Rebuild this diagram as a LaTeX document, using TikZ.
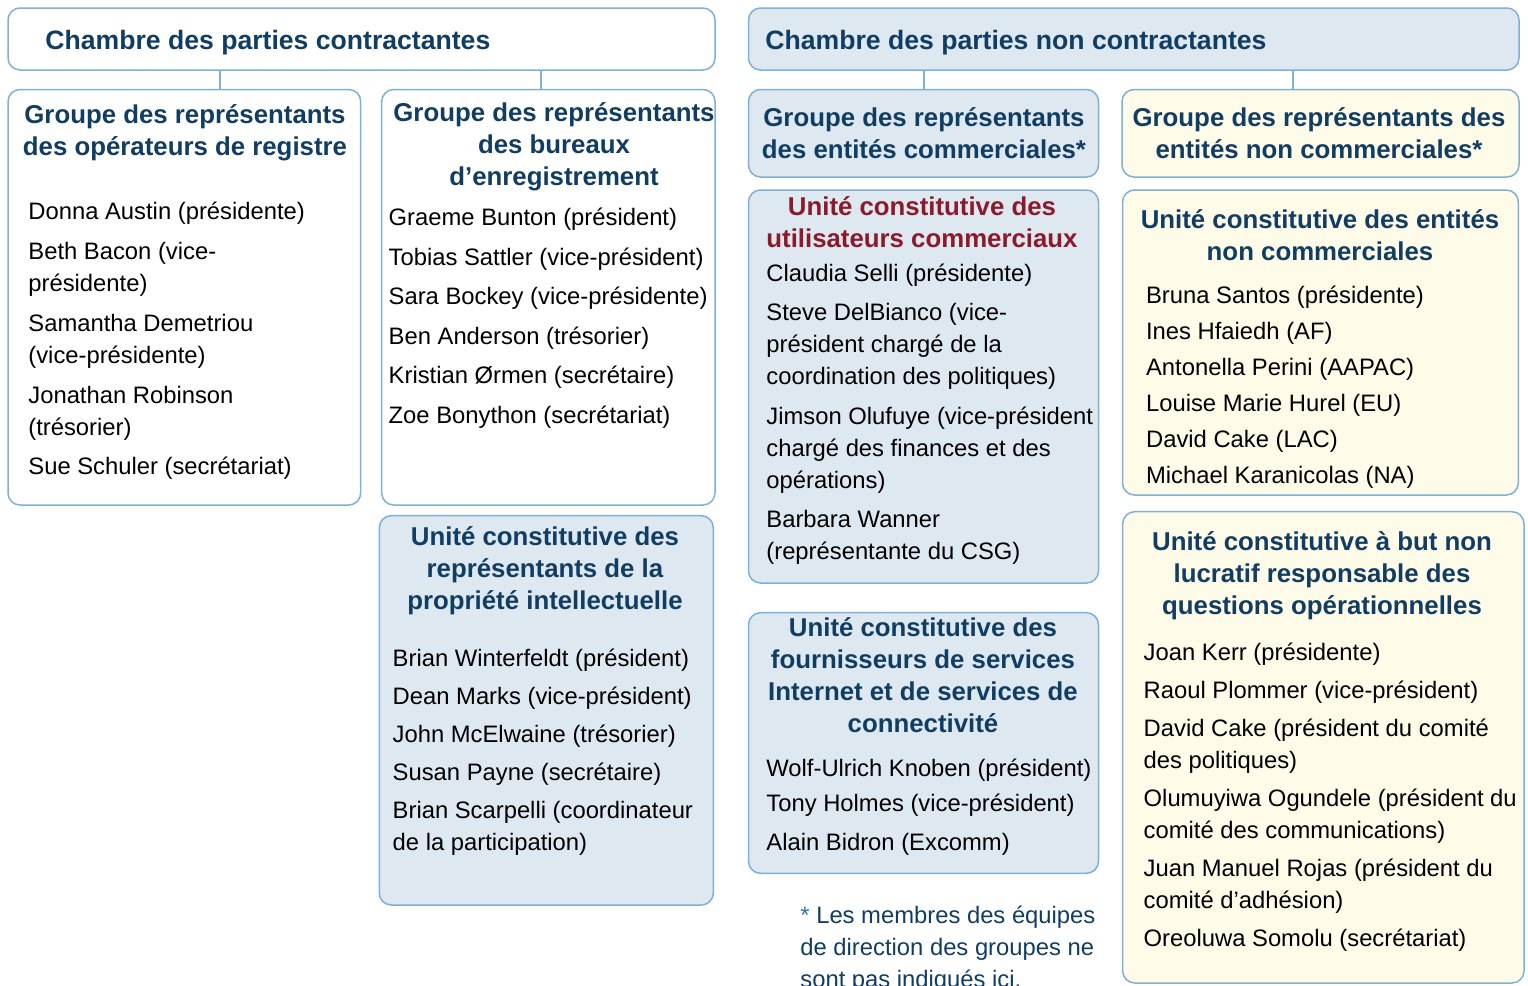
\documentclass[tikz,border=0pt]{standalone}
\usepackage{fontspec}
\setmainfont{Liberation Sans}
\usetikzlibrary{fit}
\definecolor{navy}{RGB}{17,61,99}
\definecolor{wine}{RGB}{139,26,44}
\definecolor{edge}{RGB}{127,176,214}
\definecolor{bluefill}{RGB}{222,232,241}
\definecolor{yelfill}{RGB}{254,251,233}
\definecolor{starblue}{RGB}{46,117,170}
\newcommand\Lines[1]{\begin{tabular}[t]{@{}l@{}}#1\end{tabular}}
\newcommand\CLines[1]{\begin{tabular}[t]{@{}c@{}}#1\end{tabular}}
\tikzset{
  box/.style={draw=edge, line width=0.75pt, rounded corners=6pt, inner sep=0pt},
  boxW/.style={box, fill=white},
  boxB/.style={box, fill=bluefill},
  boxY/.style={box, fill=yelfill},
  conn/.style={draw=edge, line width=1pt},
  hdr/.style={anchor=base west, inner sep=0pt, text=navy, font=\bfseries\fontsize{13.3}{16}\selectfont},
  ttl/.style={anchor=base, inner sep=0pt, text=navy, font=\bfseries\fontsize{12.9}{16}\selectfont},
  ttlred/.style={ttl, text=wine},
  lst/.style={anchor=base west, inner sep=0pt, text=black, font=\fontsize{11.9}{16}\selectfont},
  foot/.style={anchor=base west, inner sep=0pt, text=navy, font=\fontsize{11.9}{16}\selectfont}
}
\begin{document}
\begin{tikzpicture}[x=0.5pt,y=-0.5pt]
\path[fill=white,use as bounding box] (0,0) rectangle (1528,986);

% header boxes
\node[boxW, fit={(8,8)(715,70)}] (hA) {};
\node[boxB, fit={(748.5,8)(1519,70)}] (hB) {};
\node[hdr] (hAt) at (45,49.3) {Chambre des parties contractantes};
\node[hdr] (hBt) at (765,49) {Chambre des parties non contractantes};

% group boxes
\node[boxW, fit={(8,89.5)(360.7,505)}] (c1) {};
\node[boxW, fit={(381.7,89.5)(715,505)}] (c2) {};
\node[boxB, fit={(379.3,515.7)(713.3,905)}] (c3) {};
\node[boxB, fit={(748.5,89.5)(1098.5,177)}] (d1) {};
\node[boxB, fit={(748.5,190)(1098.5,583)}] (d2) {};
\node[boxB, fit={(748.5,612.7)(1098.5,873.3)}] (d3) {};
\node[boxY, fit={(1122,89.5)(1519,177)}] (e1) {};
\node[boxY, fit={(1122.5,190)(1518.3,495)}] (e2) {};
\node[boxY, fit={(1122.7,511.7)(1524,983)}] (e3) {};

% connectors
\coordinate (k1) at (220,0);
\coordinate (k2) at (541,0);
\coordinate (k3) at (924,0);
\coordinate (k4) at (1293,0);
\draw[conn] (hA.south -| k1) -- (c1.north -| k1);
\draw[conn] (hA.south -| k2) -- (c2.north -| k2);
\draw[conn] (hB.south -| k3) -- (d1.north -| k3);
\draw[conn] (hB.south -| k4) -- (e1.north -| k4);

% titles
\node[ttl] (c1t) at (185,123.3) {\CLines{Groupe des représentants\\des opérateurs de registre}};
\node[ttl] (c2t) at (554,121) {\CLines{Groupe des représentants\\des bureaux\\d’enregistrement}};
\node[ttl] (c3t) at (545,545) {\CLines{Unité constitutive des\\représentants de la\\propriété intellectuelle}};
\node[ttl] (d1t) at (924,126) {\CLines{Groupe des représentants\\des entités commerciales*}};
\node[ttlred] (d2t) at (922,215) {\CLines{Unité constitutive des\\utilisateurs commerciaux}};
\node[ttl] (d3t) at (923,636.7) {\CLines{Unité constitutive des\\fournisseurs de services\\Internet et de services de\\connectivité}};
\node[ttl] (e1t) at (1319,126) {\CLines{Groupe des représentants des\\entités non commerciales*}};
\node[ttl] (e2t) at (1320,228.3) {\CLines{Unité constitutive des entités\\non commerciales}};
\node[ttl] (e3t) at (1322,550) {\CLines{Unité constitutive à but non\\lucratif responsable des\\questions opérationnelles}};

% member lists
\node[lst] (c1l) at (28,219.3) {\Lines{Donna Austin (présidente)\\[4pt]
Beth Bacon (vice-\\
présidente)\\[4pt]
Samantha Demetriou\\
(vice-présidente)\\[4pt]
Jonathan Robinson\\
(trésorier)\\[3.5pt]
Sue Schuler (secrétariat)}};

\node[lst] (c2l) at (388.3,225) {\Lines{Graeme Bunton (président)\\[4pt]
Tobias Sattler (vice-président)\\[3.5pt]
Sara Bockey (vice-présidente)\\[4pt]
Ben Anderson (trésorier)\\[3.5pt]
Kristian Ørmen (secrétaire)\\[4pt]
Zoe Bonython (secrétariat)}};

\node[lst] (c3l) at (392.3,666.7) {\Lines{Brian Winterfeldt (président)\\[3pt]
Dean Marks (vice-président)\\[3pt]
John McElwaine (trésorier)\\[3pt]
Susan Payne (secrétaire)\\[3pt]
Brian Scarpelli (coordinateur\\
de la participation)}};

\node[lst] (d2l) at (766,281.7) {\Lines{Claudia Selli (présidente)\\[3.5pt]
Steve DelBianco (vice-\\
président chargé de la\\
coordination des politiques)\\[4pt]
Jimson Olufuye (vice-président\\
chargé des finances et des\\
opérations)\\[3.5pt]
Barbara Wanner\\
(représentante du CSG)}};

\node[lst] (d3l) at (766,776.7) {\Lines{Wolf-Ulrich Knoben (président)\\[1.5pt]
Tony Holmes (vice-président)\\[3.5pt]
Alain Bidron (Excomm)}};

\node[lst] (e2l) at (1145.7,303.3) {\Lines{Bruna Santos (présidente)\\[2pt]
Ines Hfaiedh (AF)\\[2pt]
Antonella Perini (AAPAC)\\[2pt]
Louise Marie Hurel (EU)\\[2pt]
David Cake (LAC)\\[2pt]
Michael Karanicolas (NA)}};

\node[lst] (e3l) at (1143.3,660.7) {\Lines{Joan Kerr (présidente)\\[3pt]
Raoul Plommer (vice-président)\\[3pt]
David Cake (président du comité\\
des politiques)\\[3pt]
Olumuyiwa Ogundele (président du\\
comité des communications)\\[3pt]
Juan Manuel Rojas (président du\\
comité d’adhésion)\\[3pt]
Oreoluwa Somolu (secrétariat)}};

% footnote
\node[foot] (fn) at (800,923) {\Lines{\textcolor{starblue}{*} Les membres des équipes\\
de direction des groupes ne\\
sont pas indiqués ici.}};
\end{tikzpicture}
\end{document}
